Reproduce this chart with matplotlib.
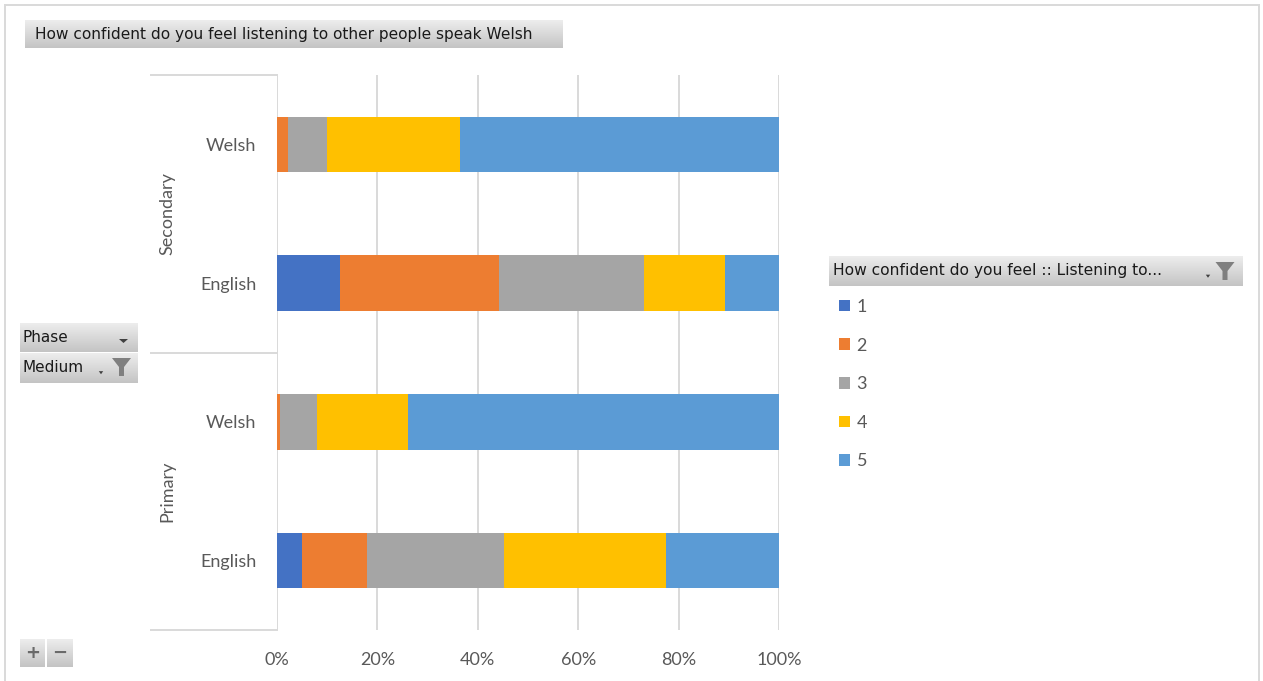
import numpy as np
import matplotlib
matplotlib.use("Agg")
import matplotlib.pyplot as plt
from matplotlib.colors import LinearSegmentedColormap
from matplotlib.lines import Line2D
from matplotlib.patches import Polygon, Rectangle
from matplotlib.transforms import blended_transform_factory

W, H = 1263, 681

# rows listed bottom to top
phases = ["Primary", "Secondary"]
mediums = ["English", "Welsh", "English", "Welsh"]
ratings = ["1", "2", "3", "4", "5"]
share_1 = [4.9, 0.0, 12.5, 0.0]
share_2 = [13.0, 0.5, 31.7, 2.1]
share_3 = [27.3, 7.4, 28.9, 7.8]
share_4 = [32.2, 18.1, 16.1, 26.5]
share_5 = [22.6, 74.0, 10.9, 63.6]
colors = ["#4472C4", "#ED7D31", "#A5A5A5", "#FFC000", "#5B9BD5"]
x_ticks = [0, 20, 40, 60, 80, 100]

title = "How confident do you feel listening to other people speak Welsh"
legend_title = "How confident do you feel :: Listening to..."

AXIS_GREY = "#595959"
LINE_GREY = "#D9D9D9"
LABEL_FONT = "Lato"
BUTTON_FONT = "DejaVu Sans"

shade = LinearSegmentedColormap.from_list("button", ["#EDEDED", "#C4C4C4"])


def px_box(x0, y0, x1, y1):
    # pixel box (origin top-left) -> figure fraction rect
    return [x0 / W, 1 - y1 / H, (x1 - x0) / W, (y1 - y0) / H]


def button(fig, x0, y0, x1, y1):
    w, h = x1 - x0, y1 - y0
    bax = fig.add_axes(px_box(x0, y0, x1, y1))
    grad = np.linspace(0, 1, 64).reshape(-1, 1)
    bax.imshow(grad, cmap=shade, aspect="auto", extent=(0, w, h, 0),
               interpolation="bilinear")
    bax.set_xlim(0, w)
    bax.set_ylim(h, 0)
    bax.axis("off")
    return bax


def funnel(bax, cx, top, size=1.0, color="#7F7F7F"):
    s = size
    pts = [(cx - 9.5 * s, top), (cx + 9.5 * s, top), (cx + 2.5 * s, top + 9 * s),
           (cx + 2.5 * s, top + 18 * s), (cx - 2.5 * s, top + 18 * s),
           (cx - 2.5 * s, top + 9 * s)]
    bax.add_patch(Polygon(pts, closed=True, color=color, lw=0))


def tiny_arrow(bax, cx, cy, half=2.5, color="#404040"):
    pts = [(cx - half, cy - half * 0.6), (cx + half, cy - half * 0.6), (cx, cy + half * 0.8)]
    bax.add_patch(Polygon(pts, closed=True, color=color, lw=0))


fig = plt.figure(figsize=(W / 100, H / 100), dpi=100)

# chart frame
fig.patches.append(Rectangle((5 / W, -0.05), 1254 / W, 1 - 5 / H + 0.05,
                             transform=fig.transFigure, fill=False,
                             edgecolor=LINE_GREY, lw=1.4))

ax = fig.add_axes(px_box(277, 75, 779, 630))
y = np.arange(len(mediums))
left = np.zeros(len(mediums))
containers = []
for rating, vals, color in zip(ratings, [share_1, share_2, share_3, share_4, share_5], colors):
    bars = ax.barh(y, vals, left=left, height=0.40, color=color, label=rating,
                   zorder=3, lw=0)
    containers.append(bars)
    left += np.array(vals)

ax.set_xlim(0, 100)
ax.set_ylim(-0.5, len(mediums) - 0.5)
ax.set_xticks(x_ticks)
ax.set_xticklabels([f"{t}%" for t in x_ticks])
ax.set_yticks(y)
ax.set_yticklabels(mediums)
ax.tick_params(length=0, colors=AXIS_GREY, labelsize=13)
ax.tick_params(axis="x", pad=16)
ax.tick_params(axis="y", pad=15)
for lab in ax.get_xticklabels() + ax.get_yticklabels():
    lab.set_fontfamily(LABEL_FONT)
ax.grid(axis="x", color=LINE_GREY, lw=1.4, zorder=0)
for sp in ax.spines.values():
    sp.set_visible(False)

# multi-level category brackets
xa = (151 - 277) / 502
for yb in [-0.5, 1.5, 3.5]:
    ax.add_line(Line2D([xa, 0], [yb, yb], color=LINE_GREY, lw=1.4, clip_on=False,
                       transform=blended_transform_factory(ax.transAxes, ax.transData)))
group_tr = blended_transform_factory(fig.transFigure, ax.transData)
for i, phase in enumerate(phases):
    fig.text(167 / W, 2 * i + 0.5, phase, rotation=90, ha="center", va="center",
             color=AXIS_GREY, fontsize=13, family=LABEL_FONT, transform=group_tr)

# title button
tb = button(fig, 25, 20, 563, 48)
tb.text(10, 14.5, title, ha="left", va="center", fontsize=11.1,
        family=BUTTON_FONT, color="#1A1A1A")

# field buttons
pb = button(fig, 20, 323, 138, 352)
pb.text(3, 15, "Phase", ha="left", va="center", fontsize=11,
        family=BUTTON_FONT, color="#1A1A1A")
pb.add_patch(Polygon([(99, 16), (108, 16), (103.5, 20)], closed=True,
                     color="#404040", lw=0))
mb = button(fig, 20, 353, 138, 383)
mb.text(3, 15, "Medium", ha="left", va="center", fontsize=11,
        family=BUTTON_FONT, color="#1A1A1A")
tiny_arrow(mb, 81, 19.5, half=2.2)
funnel(mb, 101.5, 5, size=1.0)

# legend header button
lb = button(fig, 829, 256, 1243, 286)
lb.text(4, 15, legend_title, ha="left", va="center", fontsize=11.2,
        family=BUTTON_FONT, color="#1A1A1A")
tiny_arrow(lb, 379, 20, half=2.2)
funnel(lb, 396, 6, size=1.0)

leg = fig.legend(handles=containers, labels=ratings, loc="upper left",
                 bbox_to_anchor=(839 / W, 1 - 299 / H), frameon=False,
                 borderpad=0, borderaxespad=0, handlelength=0.62, handleheight=0.62,
                 handletextpad=0.35, labelspacing=1.25,
                 prop={"family": LABEL_FONT, "size": 13})
for t in leg.get_texts():
    t.set_color(AXIS_GREY)

# expand / collapse buttons
plus = button(fig, 20, 639, 45, 667)
plus.text(12.5, 14, "+", ha="center", va="center", fontsize=13, weight="bold",
          family=BUTTON_FONT, color="#6A6A6A")
minus = button(fig, 47, 639, 73, 667)
minus.text(13, 14, "\u2212", ha="center", va="center", fontsize=13, weight="bold",
           family=BUTTON_FONT, color="#6A6A6A")

fig.savefig("out.png", dpi=100)
